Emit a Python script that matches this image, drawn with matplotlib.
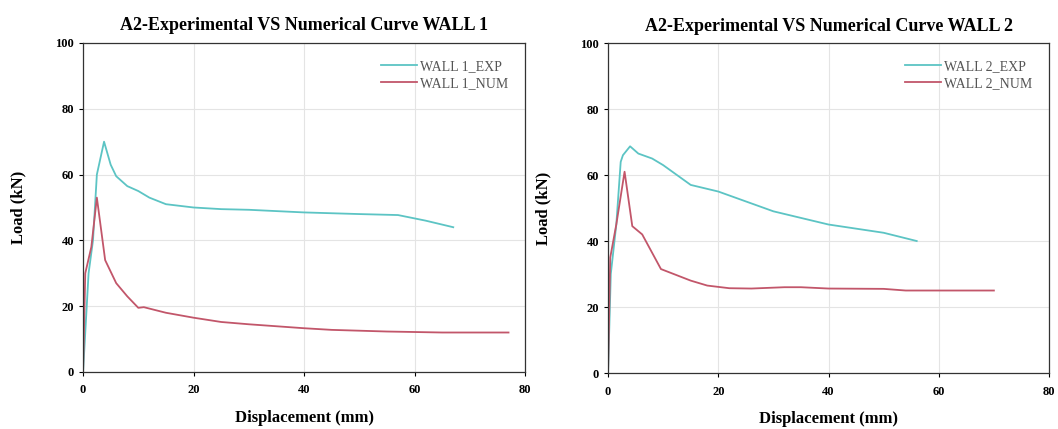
import matplotlib.pyplot as plt

# WALL 1 curves (displacement mm, load kN)
w1_exp_x = [0, 0.5, 1.0, 1.8, 2.5, 3.8, 5.0, 6.0, 8.0, 10, 12, 15, 20, 25, 30, 40, 50, 57, 62, 67]
w1_exp_y = [0, 15, 30, 40, 60, 70, 63, 59.5, 56.5, 55, 53, 51, 50, 49.5, 49.3, 48.5, 48, 47.7, 46, 44]
w1_num_x = [0, 0.4, 1.5, 2.5, 4.0, 6.0, 8.0, 10, 11, 15, 20, 25, 30, 40, 45, 55, 65, 77]
w1_num_y = [0, 30, 38, 53, 34, 27, 23, 19.5, 19.7, 18, 16.5, 15.2, 14.5, 13.3, 12.8, 12.3, 12, 12]

# WALL 2 curves
w2_exp_x = [0, 0.5, 1.5, 2.3, 2.7, 4.0, 5.5, 8.0, 10, 15, 20, 25, 30, 40, 50, 56]
w2_exp_y = [0, 30, 45, 64, 66, 68.7, 66.5, 65, 63, 57, 55, 52, 49, 45, 42.5, 40]
w2_num_x = [0, 0.4, 1.5, 3.0, 4.4, 6.2, 9.6, 15, 18, 22, 26, 32, 35, 40, 50, 54, 70]
w2_num_y = [0, 35, 45, 61, 44.5, 42, 31.5, 28, 26.5, 25.7, 25.6, 26, 26, 25.6, 25.5, 25, 25]

exp_color = '#5cc4c4'
num_color = '#c2566a'

serif = ['Liberation Serif', 'DejaVu Serif']
plt.rcParams['font.family'] = serif

fig = plt.figure(figsize=(10.58, 4.29), dpi=100)
ax1 = fig.add_axes([0.0785, 0.1329, 0.4178, 0.7669])
ax2 = fig.add_axes([0.5747, 0.1305, 0.4168, 0.7692])

panels = [
    (ax1, 'WALL 1', w1_exp_x, w1_exp_y, w1_num_x, w1_num_y),
    (ax2, 'WALL 2', w2_exp_x, w2_exp_y, w2_num_x, w2_num_y),
]

for ax, name, ex, ey, nx, ny in panels:
    ax.plot(ex, ey, color=exp_color, lw=1.3, label=name + '_EXP')
    ax.plot(nx, ny, color=num_color, lw=1.3, label=name + '_NUM')
    ax.set_xlim(0, 80)
    ax.set_ylim(0, 100)
    ax.set_xticks([0, 20, 40, 60, 80])
    ax.set_yticks([0, 20, 40, 60, 80, 100])
    ax.grid(True, color='#e4e4e4', lw=0.8)
    ax.tick_params(labelsize=9, length=3, width=0.8)
    ax.tick_params(axis='x', pad=6)
    for lab in ax.get_xticklabels() + ax.get_yticklabels():
        lab.set_fontweight('bold')
    for sp in ax.spines.values():
        sp.set_linewidth(0.9)
        sp.set_color('#333333')
    ax.set_title('A2-Experimental VS Numerical Curve ' + name,
                 fontsize=13, fontweight='bold', pad=9)
    ax.set_xlabel('Displacement (mm)', fontsize=12, fontweight='bold', labelpad=10)
    ax.set_ylabel('Load (kN)', fontsize=12, fontweight='bold', labelpad=21)
    leg = ax.legend(loc='upper right', frameon=False, fontsize=10,
                    handlelength=2.6, handletextpad=0.25,
                    borderaxespad=0.8, labelspacing=0.3)
    for t in leg.get_texts():
        t.set_color('#555555')

fig.savefig('out.png', dpi=100)
